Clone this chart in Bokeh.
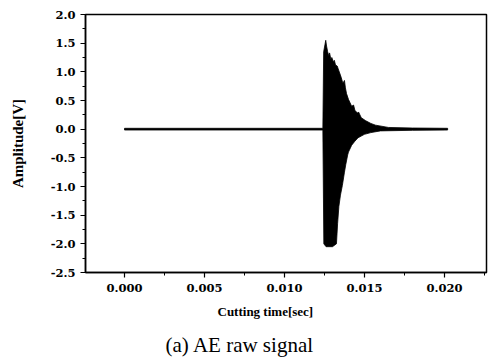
from bokeh.plotting import figure
from bokeh.models import Range1d, FixedTicker, NumeralTickFormatter, Title
from bokeh.embed import file_html
from bokeh.resources import INLINE

# Envelope of the AE raw signal (time [sec], amplitude [V])
t_upper = [0.0000, 0.01240, 0.01245, 0.01258, 0.01263, 0.01270, 0.01277, 0.01282,
           0.01290, 0.01296, 0.01305, 0.01312, 0.01319, 0.01330, 0.01336, 0.01345,
           0.01355, 0.01365, 0.01375, 0.01381, 0.01388, 0.01400, 0.01420, 0.01432,
           0.01440, 0.01456, 0.01463, 0.01480, 0.01506, 0.01540, 0.01569, 0.01650,
           0.01800, 0.02020]
a_upper = [0.015, 0.015, 1.35, 1.55, 1.45, 1.35, 1.28, 1.33,
           1.22, 1.25, 1.18, 1.20, 1.12, 1.10, 1.05, 0.98,
           0.90, 0.80, 0.85, 0.72, 0.62, 0.52, 0.40, 0.42,
           0.33, 0.28, 0.30, 0.20, 0.15, 0.10, 0.07, 0.03,
           0.02, 0.015]

t_lower = [0.0000, 0.01240, 0.01246, 0.01260, 0.01300, 0.01325, 0.01332, 0.01340,
           0.01350, 0.01362, 0.01375, 0.01383, 0.01395, 0.01400, 0.01420, 0.01440,
           0.01460, 0.01500, 0.01540, 0.01600, 0.01800, 0.02020]
a_lower = [-0.015, -0.015, -2.00, -2.05, -2.05, -2.00, -1.65, -1.35,
           -1.15, -0.98, -0.75, -0.62, -0.45, -0.40, -0.28, -0.21,
           -0.15, -0.09, -0.06, -0.03, -0.02, -0.015]

x_ticks = [0.000, 0.005, 0.010, 0.015, 0.020]
x_minor = [-0.0025, 0.0025, 0.0075, 0.0125, 0.0175, 0.0225]
y_ticks = [-2.5, -2.0, -1.5, -1.0, -0.5, 0.0, 0.5, 1.0, 1.5, 2.0]
y_minor = [-2.25, -1.75, -1.25, -0.75, -0.25, 0.25, 0.75, 1.25, 1.75]

p = figure(width=488, height=361, output_backend="svg", toolbar_location=None,
           x_range=Range1d(-0.00244, 0.02263), y_range=Range1d(-2.5, 2.0),
           min_border_left=85, min_border_right=2, min_border_top=14, min_border_bottom=89)
p.background_fill_color = "white"
p.border_fill_color = "white"
p.outline_line_color = "black"
p.outline_line_width = 1.5
p.xgrid.visible = False
p.ygrid.visible = False

# signal band
xs = list(t_upper) + list(reversed(t_lower))
ys = list(a_upper) + list(reversed(a_lower))
p.patch(xs, ys, fill_color="black", line_color="black", line_width=0.8)

for ax in (p.xaxis[0], p.yaxis[0]):
    ax.axis_line_width = 1.5
    ax.axis_line_color = "black"
    ax.major_tick_line_color = "black"
    ax.minor_tick_line_color = "black"
    ax.major_tick_in = 0
    ax.major_tick_out = 5
    ax.minor_tick_in = 0
    ax.minor_tick_out = 3
    ax.major_tick_line_width = 1.2
    ax.minor_tick_line_width = 1.0
    ax.major_label_text_font = "DejaVu Serif"
    ax.major_label_text_font_style = "bold"
    ax.major_label_text_font_size = "11.5px"
    ax.major_label_text_color = "black"

p.xaxis.ticker = FixedTicker(ticks=x_ticks, minor_ticks=x_minor)
p.yaxis.ticker = FixedTicker(ticks=y_ticks, minor_ticks=y_minor)
p.xaxis.formatter = NumeralTickFormatter(format="0.000")
p.yaxis.formatter = NumeralTickFormatter(format="0.0")
p.xaxis.major_label_standoff = 6
p.yaxis.major_label_standoff = 5

p.yaxis.axis_label = "Amplitude[V]"
p.yaxis.axis_label_text_font = "Liberation Serif"
p.yaxis.axis_label_text_font_style = "bold"
p.yaxis.axis_label_text_font_size = "15px"
p.yaxis.axis_label_text_color = "black"
p.yaxis.axis_label_standoff = 22

p.add_layout(Title(text="Cutting time[sec]", align="left", offset=132,
                   text_font="Liberation Serif", text_font_style="bold",
                   text_font_size="13px", text_color="black", standoff=14), "below")
p.add_layout(Title(text="(a) AE raw signal", align="left", offset=80,
                   text_font="Liberation Serif", text_font_style="normal",
                   text_font_size="21px", text_color="black", standoff=10), "below")

open("out.html", "w").write(file_html(p, INLINE))
